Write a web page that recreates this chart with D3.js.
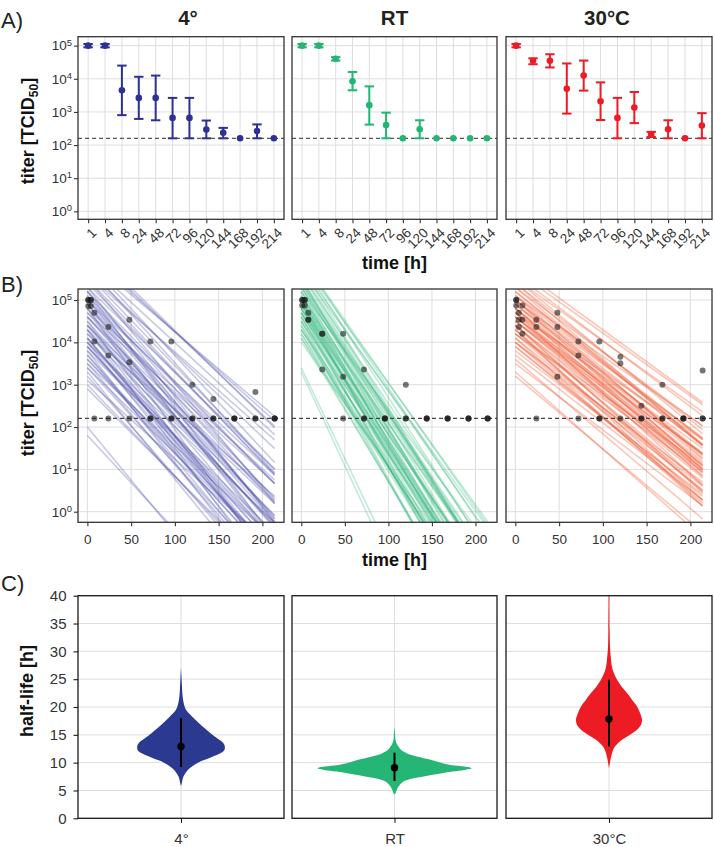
<!DOCTYPE html>
<html><head><meta charset="utf-8">
<script src="https://cdn.jsdelivr.net/npm/d3@7"></script>
<style>
body{margin:0;background:#fff}
svg{display:block}
text{font-family:"Liberation Sans",Arial,Helvetica,sans-serif}
</style>
</head><body>
<svg id="chart" width="714" height="847"></svg>
<script>
// ---------------- DATA ----------------
const conditions = ["4°", "RT", "30°C"];
const timeLabels = [1, 4, 8, 24, 48, 72, 96, 120, 144, 168, 192, 214];
const lod = 160;
const logTicks = [1e0, 1e1, 1e2, 1e3, 1e4, 1e5];
const timeTicksB = [0, 50, 100, 150, 200];
const halfLifeTicks = [0, 5, 10, 15, 20, 25, 30, 35, 40];

// Panel A: mean titer, lower and upper error bar
const meanA4  = [1e5, 1e5, 4500, 2650, 2650, 660, 660, 295, 235, 160, 265, 160];
const loA4    = [89000, 89000, 800, 615, 560, 160, 160, 160, 160, 160, 160, 160];
const hiA4    = [112000, 112000, 25000, 11500, 12500, 2650, 2650, 550, 330, 160, 420, 160];
const meanART = [1e5, 1e5, 40000, 8400, 1600, 400, 160, 300, 160, 160, 160, 160];
const loART   = [89000, 89000, 35500, 4500, 415, 160, 160, 160, 160, 160, 160, 160];
const hiART   = [112000, 112000, 45000, 16000, 5900, 950, 160, 560, 160, 160, 160, 160];
const meanA30 = [1e5, 35000, 35000, 5000, 12500, 2100, 660, 1350, 210, 300, 160, 390];
const loA30   = [89000, 27500, 22000, 890, 4400, 570, 160, 460, 175, 160, 160, 160];
const hiA30   = [112000, 41500, 55000, 29000, 35500, 7800, 2650, 4000, 250, 560, 160, 920];

// Panel B: replicate observations [time, titer]
const obs4 = [[1,1e5],[1,1e5],[1,72000],[4,1e5],[4,1e5],[4,72000],[8,50000],[8,10500],[8,160],
  [24,23000],[24,4900],[24,160],[48,34000],[48,3400],[48,160],[72,10500],[72,160],[72,160],
  [96,10500],[96,160],[96,160],[120,1000],[120,160],[120,160],[144,460],[144,160],[144,160],
  [168,160],[168,160],[168,160],[192,670],[192,160],[192,160],[214,160],[214,160],[214,160]];
const obsRT = [[1,1e5],[1,1e5],[1,74000],[4,1e5],[4,1e5],[4,74000],[8,50000],[8,34000],[8,34000],
  [24,16000],[24,16000],[24,2300],[48,16000],[48,1550],[48,160],[72,2300],[72,160],[72,160],
  [96,160],[96,160],[96,160],[120,1000],[120,160],[120,160],[144,160],[144,160],[144,160],
  [168,160],[168,160],[168,160],[192,160],[192,160],[192,160],[214,160],[214,160],[214,160]];
const obs30 = [[1,1e5],[1,1e5],[1,74000],[4,50000],[4,34000],[4,23000],[8,74000],[8,34000],[8,16000],
  [24,34000],[24,23000],[24,160],[48,50000],[48,23000],[48,1550],[72,10500],[72,4900],[72,160],
  [96,10500],[96,160],[96,160],[120,4600],[120,3200],[120,160],[144,320],[144,160],[144,160],
  [168,1000],[168,160],[168,160],[192,160],[192,160],[192,160],[214,2150],[214,160],[214,160]];

// Panel B: fitted decay curves [log10 titer at t=0, half-life h]
const fits4 = [[5.2,13.1],[4.1,12.4],[3.6,14.2],[4.8,11.9],[5.9,15.8],[4.4,13.6],[3.2,12.8],[5.5,12.2],[4.0,15.1],[4.7,13.0],
  [3.8,11.4],[5.1,14.5],[6.1,16.3],[4.3,12.0],[3.4,13.3],[4.9,12.7],[5.6,14.0],[4.2,16.8],[3.0,13.9],[5.3,11.6],
  [4.6,14.8],[3.9,12.9],[5.0,13.4],[6.3,14.9],[4.5,11.1],[3.5,15.5],[5.8,13.2],[4.0,13.8],[4.8,15.9],[3.7,12.3],
  [5.4,14.3],[4.3,10.8],[2.9,14.6],[5.0,12.5],[4.6,13.7],[6.0,17.2],[3.9,14.0],[5.2,11.0],[4.1,13.0],[4.9,14.1],
  [3.3,11.9],[5.7,15.3],[4.4,12.6],[3.6,13.5],[5.1,12.1],[4.7,16.0],[4.0,11.7],[5.5,13.9],[3.8,15.0],[4.5,13.3],
  [2.0,12.0],[1.8,13.5],[4.2,14.4],[5.3,15.0],[3.1,16.2],[4.8,10.5],[5.9,13.6],[4.1,12.2],[3.4,14.9],[5.0,15.6],
  [4.6,12.9],[3.7,13.1],[5.6,16.5],[4.3,14.7],[6.2,15.4],[4.9,11.5],[3.9,13.6],[5.2,14.2],[4.4,15.3],[3.5,12.6]];
const fitsRT = [[5.0,9.1],[4.6,8.7],[5.4,9.6],[4.3,9.0],[5.8,10.2],[4.9,8.4],[5.2,9.3],[4.1,9.8],[5.5,8.9],[4.7,9.5],
  [5.1,10.0],[4.4,8.2],[5.9,9.4],[4.8,9.2],[5.3,8.6],[4.0,10.4],[5.6,9.9],[4.5,9.1],[5.0,8.0],[4.2,9.6],
  [5.7,10.6],[4.9,9.0],[5.3,9.7],[4.6,8.5],[6.0,9.8],[4.8,10.1],[5.1,8.8],[4.3,9.3],[5.5,9.5],[4.7,8.3],
  [3.4,7.0],[3.3,6.8],[5.2,10.8],[4.5,9.9],[5.8,9.0],[4.9,9.4],[5.4,8.7],[4.1,8.9],[5.0,10.3],[4.7,9.7],
  [5.6,9.2],[4.4,9.0],[5.2,8.4],[4.8,8.8],[5.9,10.5],[4.6,9.3],[5.3,10.0],[4.2,8.6],[5.0,9.6],[5.7,9.1],
  [4.9,9.8],[4.3,10.2],[5.5,8.6],[4.8,9.0],[5.1,9.5],[6.0,10.2],[4.5,8.1],[5.4,9.9],[4.7,9.1],[5.0,8.9]];
const fits30 = [[4.6,18.0],[4.2,17.3],[5.0,18.8],[4.4,16.5],[5.3,19.6],[3.9,17.8],[4.8,17.0],[4.5,19.2],[5.1,16.8],[4.0,18.5],
  [4.7,20.1],[4.3,17.6],[5.5,20.5],[4.1,16.2],[4.9,18.3],[3.6,17.1],[5.2,17.9],[4.6,19.9],[4.4,18.7],[5.0,16.4],
  [3.8,19.0],[4.7,17.4],[5.4,18.6],[4.2,20.8],[4.9,16.9],[3.3,16.5],[3.2,17.5],[5.6,19.3],[4.5,17.7],[4.0,19.5],
  [4.8,18.1],[5.1,21.0],[4.3,16.0],[4.6,18.9],[5.3,17.2],[3.9,18.2],[4.7,15.8],[5.0,19.8],[4.4,17.9],[5.7,20.3],
  [4.1,18.4],[4.8,16.6],[4.5,20.6],[5.2,18.5],[3.7,18.8],[4.9,19.4],[4.3,15.5],[5.5,17.6],[4.6,17.1],[4.0,17.0],
  [5.1,19.0],[4.2,19.7],[4.8,18.7],[5.4,16.8],[4.5,18.3],[3.5,19.2],[4.7,21.5],[5.0,17.5],[4.4,16.3],[5.8,20.0]];

// Panel C: violin profiles [half-life h, relative density %]
const violin4 = [[5.8,0],[6.5,1.3],[7.5,3.2],[8.5,7.8],[9.3,14.3],[10.0,22],[10.5,31],[11.2,43],[11.7,51],[12.2,56],
  [12.7,57],[13.3,56],[13.8,53],[14.9,42],[15.7,35],[16.5,28],[17.4,21],[18.3,14.3],[19.5,6.5],[20.7,3.5],
  [22.0,2],[23.6,1.3],[25.5,0.6],[27.2,0]];
const violinRT = [[4.3,0],[4.5,1.3],[5.0,2.6],[5.7,5.2],[6.6,11.7],[7.0,19.5],[7.5,37.7],[8.0,58],[8.4,75],[8.7,91],
  [9.0,100],[9.3,91],[9.6,73],[10.0,60],[10.5,47],[11.1,29],[11.7,15.6],[12.3,8.4],[12.9,5.2],[13.5,2.6],
  [14.1,1.3],[15.0,0.8],[16.5,0]];
const violin30 = [[9.0,0],[10.5,1.9],[11.7,3.9],[12.9,7.8],[14.1,16.9],[15.0,27.3],[15.9,36.4],[16.8,41.6],[17.7,42.9],
  [18.9,40.3],[20.1,36.4],[21.3,29.9],[22.5,23.4],[23.7,16.2],[24.9,10.4],[26.0,6.5],[27.2,3.9],[29.0,2.3],
  [30.8,1.3],[34.0,0.8],[40.0,0.5]];
// Panel C: median and interval of half-life [median, low, high]
const summary4  = [12.9, 9.2, 18.0];
const summaryRT = [9.1, 6.7, 11.8];
const summary30 = [17.85, 12.9, 24.9];

// ---------------- STYLE / LAYOUT ----------------
const markColors   = ["#2E3192", "#22B573", "#ED1C24"];
const lineColors   = ["#4A4DA8", "#27B477", "#F0552E"];
const lineOpacity  = [0.3, 0.28, 0.33];
const violinColors = ["#2B3990", "#25B574", "#ED1C24"];
const cols = [[78, 284], [292, 497], [506, 712]];
const rowA = [36.7, 219.3], rowB = [289, 522.3], rowC = [595.7, 818.3];
const gridColor = "#DEDEDE", borderColor = "#333", tickColor = "#333", labelColor = "#333";

const meansA = [meanA4, meanART, meanA30], losA = [loA4, loART, loA30], hisA = [hiA4, hiART, hiA30];
const obsB = [obs4, obsRT, obs30], fitsB = [fits4, fitsRT, fits30];
const violins = [violin4, violinRT, violin30], summaries = [summary4, summaryRT, summary30];

const svg = d3.select("#chart");
const yA = d3.scaleLog().domain([Math.pow(10, -0.24), Math.pow(10, 5.27)]).range([rowA[1], rowA[0]]);
const yB = d3.scaleLog().domain([Math.pow(10, -0.25), Math.pow(10, 5.26)]).range([rowB[1], rowB[0]]);
const yC = d3.scaleLinear().domain([0, 40]).range([rowC[1], rowC[0]]);
const wC = d3.scaleLinear().domain([0, 100]).range([0, 77]);
const LOG2 = Math.log10(2);

function styleAxis(ax) {
  ax.attr("font-size", null).attr("font-family", null);
  ax.select(".domain").remove();
  ax.selectAll(".tick line").attr("stroke", tickColor).attr("stroke-width", 1.1);
  ax.selectAll(".tick text").attr("fill", labelColor);
}
function logLabels(ax) {
  ax.selectAll(".tick text").each(function(d) {
    const t = d3.select(this);
    t.text("10").attr("font-size", 13.5);
    t.append("tspan").attr("dy", "-0.5em").attr("font-size", "0.7em").text(Math.round(Math.log10(d)));
  });
}
function frame(g, c, row) {
  g.append("rect").attr("x", c[0]).attr("y", row[0]).attr("width", c[1] - c[0]).attr("height", row[1] - row[0])
    .attr("fill", "none").attr("stroke", borderColor).attr("stroke-width", 1.3);
}

// ---------------- PANEL A ----------------
conditions.forEach((cond, i) => {
  const c = cols[i];
  const g = svg.append("g");
  const x = d3.scalePoint().domain(timeLabels).range(c).padding(0.6);
  g.selectAll(".gv").data(timeLabels).join("line").attr("x1", d => x(d)).attr("x2", d => x(d))
    .attr("y1", rowA[0]).attr("y2", rowA[1]).attr("stroke", gridColor);
  g.selectAll(".gh").data(logTicks).join("line").attr("x1", c[0]).attr("x2", c[1])
    .attr("y1", d => yA(d)).attr("y2", d => yA(d)).attr("stroke", gridColor);
  g.append("line").attr("x1", c[0]).attr("x2", c[1]).attr("y1", yA(lod)).attr("y2", yA(lod))
    .attr("stroke", "#555").attr("stroke-width", 1.2).attr("stroke-dasharray", "4,3");
  const data = timeLabels.map((t, k) => ({t, m: meansA[i][k], lo: losA[i][k], hi: hisA[i][k]}));
  const eb = data.filter(d => d.hi > d.lo);
  g.selectAll(".eb").data(eb).join("line").attr("x1", d => x(d.t)).attr("x2", d => x(d.t))
    .attr("y1", d => yA(d.lo)).attr("y2", d => yA(d.hi)).attr("stroke", markColors[i]).attr("stroke-width", 2);
  ["lo", "hi"].forEach(k => {
    g.selectAll(".cap" + k).data(eb).join("line").attr("x1", d => x(d.t) - 4.7).attr("x2", d => x(d.t) + 4.7)
      .attr("y1", d => yA(d[k])).attr("y2", d => yA(d[k])).attr("stroke", markColors[i]).attr("stroke-width", 2);
  });
  g.selectAll(".pt").data(data).join("circle").attr("cx", d => x(d.t)).attr("cy", d => yA(d.m))
    .attr("r", 3.3).attr("fill", markColors[i]);
  frame(g, c, rowA);
  const ax = g.append("g").attr("transform", `translate(0,${rowA[1]})`)
    .call(d3.axisBottom(x).tickSize(4).tickPadding(0));
  styleAxis(ax);
  ax.selectAll(".tick text").attr("y", 0).attr("dy", "0.71em").attr("text-anchor", "end")
    .attr("font-size", 13.5).attr("transform", "translate(2,7.5) rotate(-45)");
  if (i === 0) {
    const ay = g.append("g").attr("transform", `translate(${c[0]},0)`)
      .call(d3.axisLeft(yA).tickValues(logTicks).tickSize(4).tickPadding(2));
    styleAxis(ay); logLabels(ay);
  }
  svg.append("text").attr("x", i === 0 ? 188 : (c[0] + c[1]) / 2 - (i === 2 ? 2 : 0)).attr("y", 25)
    .attr("text-anchor", "middle").attr("font-weight", "bold").attr("font-size", 20.5).attr("fill", "#222").text(cond);
});

// ---------------- PANEL B ----------------
conditions.forEach((cond, i) => {
  const c = cols[i];
  const g = svg.append("g");
  const x = d3.scaleLinear().domain([-10.7, 224.7]).range(c);
  g.selectAll(".gv").data(timeTicksB).join("line").attr("x1", d => x(d)).attr("x2", d => x(d))
    .attr("y1", rowB[0]).attr("y2", rowB[1]).attr("stroke", gridColor);
  g.selectAll(".gh").data(logTicks).join("line").attr("x1", c[0]).attr("x2", c[1])
    .attr("y1", d => yB(d)).attr("y2", d => yB(d)).attr("stroke", gridColor);
  const clipId = "clipB" + i;
  svg.append("clipPath").attr("id", clipId).append("rect").attr("x", c[0]).attr("y", rowB[0])
    .attr("width", c[1] - c[0]).attr("height", rowB[1] - rowB[0]);
  const tEnd = timeLabels[timeLabels.length - 1];
  const line = d3.line().x(d => x(d[0])).y(d => yB(d[1]));
  g.append("g").attr("clip-path", `url(#${clipId})`).selectAll("path").data(fitsB[i]).join("path")
    .attr("d", f => line([[0, Math.pow(10, f[0])], [tEnd, Math.pow(10, f[0] - tEnd * LOG2 / f[1])]]))
    .attr("fill", "none").attr("stroke", lineColors[i]).attr("stroke-width", 1.6).attr("stroke-opacity", lineOpacity[i]);
  g.append("line").attr("x1", c[0]).attr("x2", c[1]).attr("y1", yB(lod)).attr("y2", yB(lod))
    .attr("stroke", "#444").attr("stroke-width", 1.2).attr("stroke-dasharray", "4,3");
  g.selectAll(".ob").data(obsB[i]).join("circle").attr("cx", d => x(d[0])).attr("cy", d => yB(d[1]))
    .attr("r", 3).attr("fill", "#1a1a1a").attr("fill-opacity", 0.6);
  frame(g, c, rowB);
  const ax = g.append("g").attr("transform", `translate(0,${rowB[1]})`)
    .call(d3.axisBottom(x).tickValues(timeTicksB).tickSize(4).tickPadding(8.5));
  styleAxis(ax);
  ax.selectAll(".tick text").attr("font-size", 13.5);
  if (i === 0) {
    const ay = g.append("g").attr("transform", `translate(${c[0]},0)`)
      .call(d3.axisLeft(yB).tickValues(logTicks).tickSize(4).tickPadding(2));
    styleAxis(ay); logLabels(ay);
  }
});

// ---------------- PANEL C ----------------
conditions.forEach((cond, i) => {
  const c = cols[i];
  const g = svg.append("g");
  const x = d3.scalePoint().domain([cond]).range(c).padding(0.5);
  const cx = x(cond);
  g.selectAll(".gh").data(halfLifeTicks).join("line").attr("x1", c[0]).attr("x2", c[1])
    .attr("y1", d => yC(d)).attr("y2", d => yC(d)).attr("stroke", gridColor);
  g.append("line").attr("x1", cx).attr("x2", cx).attr("y1", rowC[0]).attr("y2", rowC[1]).attr("stroke", gridColor);
  const area = d3.area().y(d => yC(d[0])).x0(d => cx - wC(d[1])).x1(d => cx + wC(d[1])).curve(d3.curveCatmullRom);
  g.append("path").attr("d", area(violins[i])).attr("fill", violinColors[i]);
  const s = summaries[i];
  g.append("line").attr("x1", cx).attr("x2", cx).attr("y1", yC(s[1])).attr("y2", yC(s[2]))
    .attr("stroke", "#000").attr("stroke-width", 2);
  g.append("circle").attr("cx", cx).attr("cy", yC(s[0])).attr("r", 3.7).attr("fill", "#000");
  g.append("rect").attr("x", c[0]).attr("y", rowC[0]).attr("width", c[1] - c[0]).attr("height", rowC[1] - rowC[0])
    .attr("fill", "none").attr("stroke", "#1a1a1a").attr("stroke-width", 1.3);
  const ax = g.append("g").attr("transform", `translate(0,${rowC[1]})`)
    .call(d3.axisBottom(x).tickSize(4.5).tickPadding(11));
  styleAxis(ax);
  ax.selectAll(".tick line").attr("stroke", "#1a1a1a");
  ax.selectAll(".tick text").attr("font-size", 15);
  if (i === 0) {
    const ay = g.append("g").attr("transform", `translate(${c[0]},0)`)
      .call(d3.axisLeft(yC).tickValues(halfLifeTicks).tickSize(4.5).tickPadding(7));
    styleAxis(ay);
    ay.selectAll(".tick line").attr("stroke", "#1a1a1a");
    ay.selectAll(".tick text").attr("font-size", 15);
  }
});

// ---------------- LABELS ----------------
function titerLabel(yc) {
  const t = svg.append("text").attr("transform", `translate(33.5,${yc}) rotate(-90)`).attr("text-anchor", "middle")
    .attr("font-weight", "bold").attr("font-size", 18).attr("fill", "#111");
  t.append("tspan").text("titer [TCID");
  t.append("tspan").attr("font-size", 12).attr("dy", 4).text("50");
  t.append("tspan").attr("dy", -4).text("]");
}
titerLabel(131);
titerLabel(403);
svg.append("text").attr("transform", "translate(32.5,691) rotate(-90)").attr("text-anchor", "middle")
  .attr("font-weight", "bold").attr("font-size", 18).attr("fill", "#111").text("half-life [h]");
[268.5, 566].forEach(y => svg.append("text").attr("x", (cols[1][0] + cols[1][1]) / 2).attr("y", y)
  .attr("text-anchor", "middle").attr("font-weight", "bold").attr("font-size", 18).attr("fill", "#111").text("time [h]"));
[["A)", 28], ["B)", 292], ["C)", 591]].forEach(([s, y]) => svg.append("text").attr("x", 1).attr("y", y)
  .attr("font-size", 22).attr("fill", "#222").text(s));
</script>
</body></html>
